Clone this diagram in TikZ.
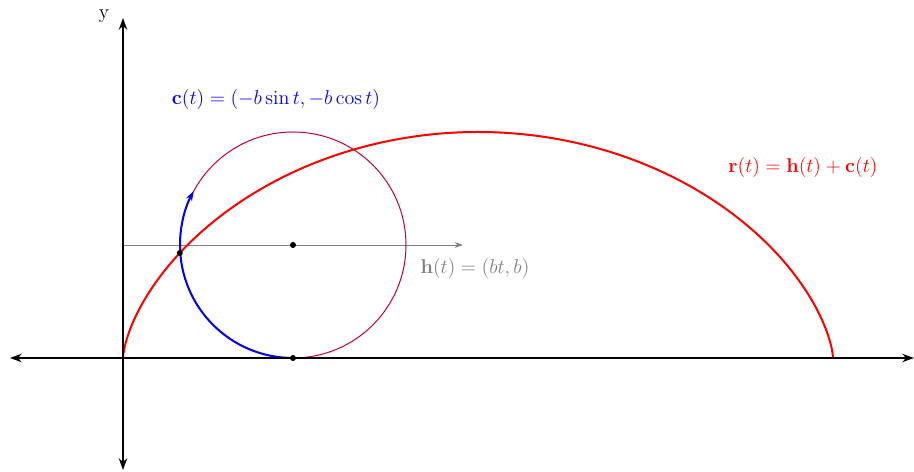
\documentclass[tikz,border=0pt]{standalone}
\usetikzlibrary{arrows.meta}
\begin{document}
\begin{tikzpicture}[x=0.6pt,y=0.6pt,
  axis/.style={line width=1.2pt,-{Stealth[length=7pt,width=5pt]}},
  dotnode/.style={circle,fill=black,inner sep=0pt,minimum size=3.6pt},
  lbl/.style={inner sep=0pt,font=\fontsize{12}{14}\selectfont}]
\useasboundingbox (-123,-114) rectangle (791,358);
\coordinate (O) at (0,0);
\coordinate (xl) at (-113,0);
\coordinate (xr) at (791,0);
\coordinate (yb) at (0,-112);
\coordinate (yt) at (0,340);
\coordinate (hl) at (0,113);
\coordinate (hr) at (340,113);
% gray translation line
\draw[gray,line width=0.5pt,-{Stealth[length=5pt,width=3.5pt]}] (hl) -- (hr);
% circle
\node[dotnode] (C) at (170,113) {};
\draw[purple,line width=0.6pt] (C) circle (113);
% cycloid
\draw[red,line width=1.2pt,domain=0:6.2832,samples=200,smooth]
  plot ({113*(\x - sin(\x r))},{113*(1-cos(\x r))});
% blue arc
\draw[blue,line width=1.2pt,-{Stealth[length=6pt,width=4pt]}] (170,0) arc[start angle=-90,end angle=-208.5,radius=113];
% axes
\draw[axis] (O) -- (xl);
\draw[axis] (O) -- (xr);
\draw[axis] (O) -- (yb);
\draw[axis] (O) -- (yt);
\node[dotnode] (B) at (170,0) {};
\node[dotnode] (P) at ({113*(1.5 - sin(1.5 r))},{113*(1-cos(1.5 r))}) {};
% labels
\node[lbl] (ylab) at (-19,342) {y};
\node[lbl] (xlab) at (797,-17) {x};
\node[lbl,blue] (clab) at (153,258) {$\mathbf{c}(t)=(-b\sin t,-b\cos t)$};
\node[lbl,red] (rlab) at (680,190) {$\mathbf{r}(t)=\mathbf{h}(t)+\mathbf{c}(t)$};
\node[lbl,gray] (hlab) at (352,89) {$\mathbf{h}(t)=(bt,b)$};
\end{tikzpicture}
\end{document}
